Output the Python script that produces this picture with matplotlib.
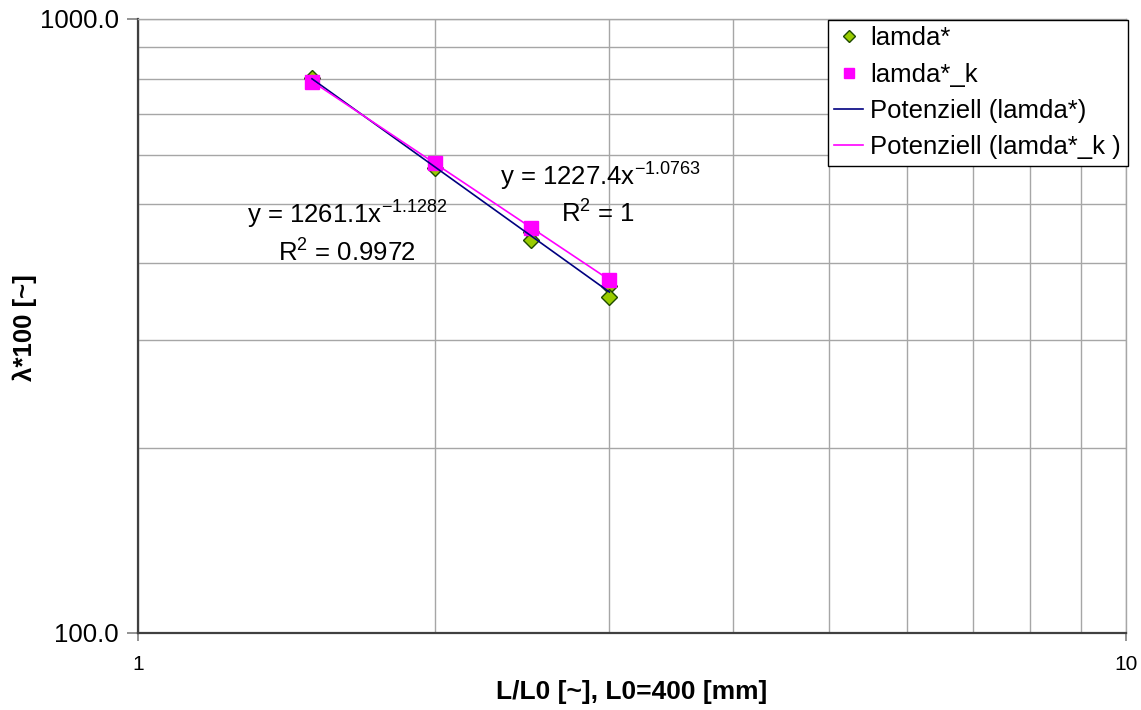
import numpy as np
import matplotlib
matplotlib.use("Agg")
import matplotlib.pyplot as plt
from matplotlib.ticker import FixedLocator, NullFormatter, FixedFormatter

plt.rcParams['font.family'] = ['Liberation Sans', 'DejaVu Sans']
plt.rcParams['mathtext.fontset'] = 'custom'
plt.rcParams['mathtext.rm'] = 'Liberation Sans'
plt.rcParams['mathtext.it'] = 'Liberation Sans'

# Data
x_lamda = [1.5, 2.0, 2.5, 2.5, 3.0, 3.0]
y_lamda = [801, 571, 450, 437, 367, 352]
x_lamda_k = [1.5, 2.0, 2.5, 3.0]
y_lamda_k = [791, 582, 457, 376]

label_lamda = "lamda*"
label_lamda_k = "lamda*_k"
label_fit = "Potenziell (lamda*)"
label_fit_k = "Potenziell (lamda*_k )"
eq1 = "y = 1261.1x$^{-1.1282}$"
r1 = "R$^{2}$ = 0.9972"
eq2 = "y = 1227.4x$^{-1.0763}$"
r2 = "R$^{2}$ = 1"
xlabel = "L/L0 [~], L0=400 [mm]"
ylabel = "λ*100 [~]"

W, H = 1141, 710
fig = plt.figure(figsize=(W / 100, H / 100), dpi=100)
ax = fig.add_axes([138 / W, 1 - 633 / H, (1126 - 138) / W, (633 - 19) / H])
ax.set_xscale('log')
ax.set_yscale('log')
ax.set_xlim(1, 10)
ax.set_ylim(100, 1000)

# Grid
grid_c = '#A6A6A6'
ax.xaxis.set_major_locator(FixedLocator([1, 10]))
ax.xaxis.set_minor_locator(FixedLocator([2, 3, 4, 5, 6, 7, 8, 9]))
ax.yaxis.set_major_locator(FixedLocator([100, 1000]))
ax.yaxis.set_minor_locator(FixedLocator([200, 300, 400, 500, 600, 700, 800, 900]))
ax.xaxis.set_major_formatter(FixedFormatter(['1', '10']))
ax.yaxis.set_major_formatter(FixedFormatter(['100.0', '1000.0']))
ax.xaxis.set_minor_formatter(NullFormatter())
ax.yaxis.set_minor_formatter(NullFormatter())
ax.grid(True, which='both', color=grid_c, linewidth=1.0)
ax.set_axisbelow(True)
ax.tick_params(which='minor', length=0)
ax.tick_params(axis='y', which='major', length=8, width=1.2, color='#808080', labelsize=18.5, pad=6)
ax.tick_params(axis='x', which='major', length=6, width=1.2, color='#808080', labelsize=15, pad=10)
for s in ['left', 'bottom']:
    ax.spines[s].set_color('#404040')
    ax.spines[s].set_linewidth(1.6)
for s in ['top', 'right']:
    ax.spines[s].set_color(grid_c)
    ax.spines[s].set_linewidth(1.0)

# Power-law trendlines fitted to the data
def powerfit(x, y):
    b, loga = np.polyfit(np.log(x), np.log(y), 1)
    xs = np.linspace(min(x), max(x), 50)
    return xs, np.exp(loga) * xs ** b

xs1, ys1 = powerfit(x_lamda, y_lamda)
xs2, ys2 = powerfit(x_lamda_k, y_lamda_k)

ax.plot(x_lamda, y_lamda, linestyle='none', marker='D', markersize=8,
        markerfacecolor='#99CC00', markeredgecolor='#1F4A00', markeredgewidth=1.0,
        label=label_lamda, zorder=3)
ax.plot(x_lamda_k, y_lamda_k, linestyle='none', marker='s', markersize=9.5,
        markerfacecolor='#FF00FF', markeredgecolor='#FF00FF',
        label=label_lamda_k, zorder=4)
ax.plot(xs1, ys1, color='#000080', linewidth=1.2, label=label_fit, zorder=5)
ax.plot(xs2, ys2, color='#FF00FF', linewidth=1.2, label=label_fit_k, zorder=5)

# Trendline equations
fs = 18.5
fig.text(347 / W, 1 - 215 / H, eq1, ha='center', va='center', fontsize=fs)
fig.text(347 / W, 1 - 253 / H, r1, ha='center', va='center', fontsize=fs)
fig.text(600 / W, 1 - 177 / H, eq2, ha='center', va='center', fontsize=fs)
fig.text(598 / W, 1 - 214 / H, r2, ha='center', va='center', fontsize=fs)

fig.text(632 / W, 1 - 692 / H, xlabel, ha='center', va='center',
         fontsize=19, fontweight='bold')
fig.text(25 / W, 1 - 328 / H, ylabel, ha='center', va='center',
         fontsize=18.5, fontweight='bold', rotation=90)

leg = ax.legend(loc='upper left', bbox_to_anchor=(828 / W, 1 - 20 / H),
                bbox_transform=fig.transFigure, fontsize=18.5, frameon=True,
                fancybox=False, edgecolor='black', framealpha=1,
                borderpad=0.25, labelspacing=0.48, handlelength=1.1,
                handletextpad=0.3, borderaxespad=0, markerscale=0.75)
leg.get_frame().set_linewidth(1.0)

fig.savefig('out.png', dpi=100)
